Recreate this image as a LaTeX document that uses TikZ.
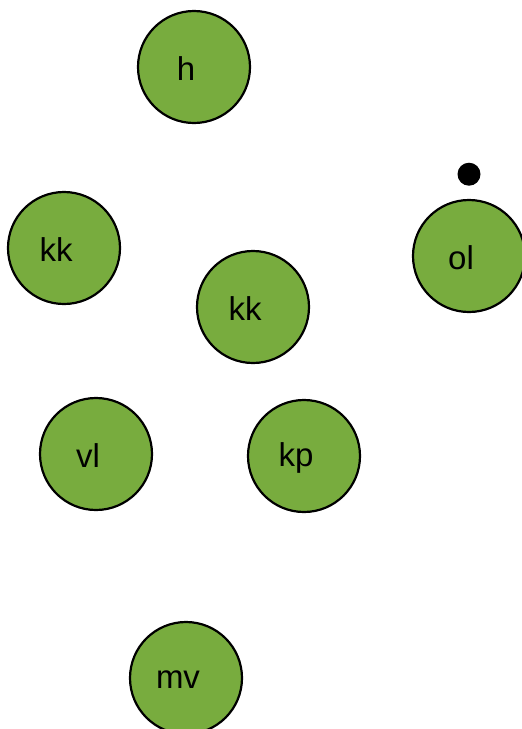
\documentclass[tikz,border=0pt]{standalone}
\usepackage{fontspec}
\setmainfont{Liberation Sans}
\usetikzlibrary{positioning}

\definecolor{leafgreen}{RGB}{120,172,62}

\begin{document}
\begin{tikzpicture}
  [x=1pt,y=-1pt,
   leaf/.style={circle,draw=black,line width=2.2pt,fill=leafgreen,minimum size=112pt,inner sep=0pt},
   marker/.style={circle,fill=black,minimum size=23pt,inner sep=0pt},
   every label/.style={font=\fontsize{33}{38}\selectfont,xshift=-8pt,yshift=-2pt}]

  \useasboundingbox (0,0) rectangle (522,729);

  % circles
  \node [leaf,label=center:h]  (h)   at (194,67)  {};
  \node [leaf,label=center:kk] (kk1) at (64,248)  {};
  \node [leaf,label=center:kk] (kk2) at (253,307) {};
  \node [leaf,label=center:ol] (ol)  at (469,256) {};
  \node [leaf,label=center:vl] (vl)  at (96,454)  {};
  \node [leaf,label=center:kp] (kp)  at (304,456) {};
  \node [leaf,label=center:mv] (mv)  at (186,678) {};

  \node [marker] (dot) [above=13pt of ol] {};

\end{tikzpicture}
\end{document}
